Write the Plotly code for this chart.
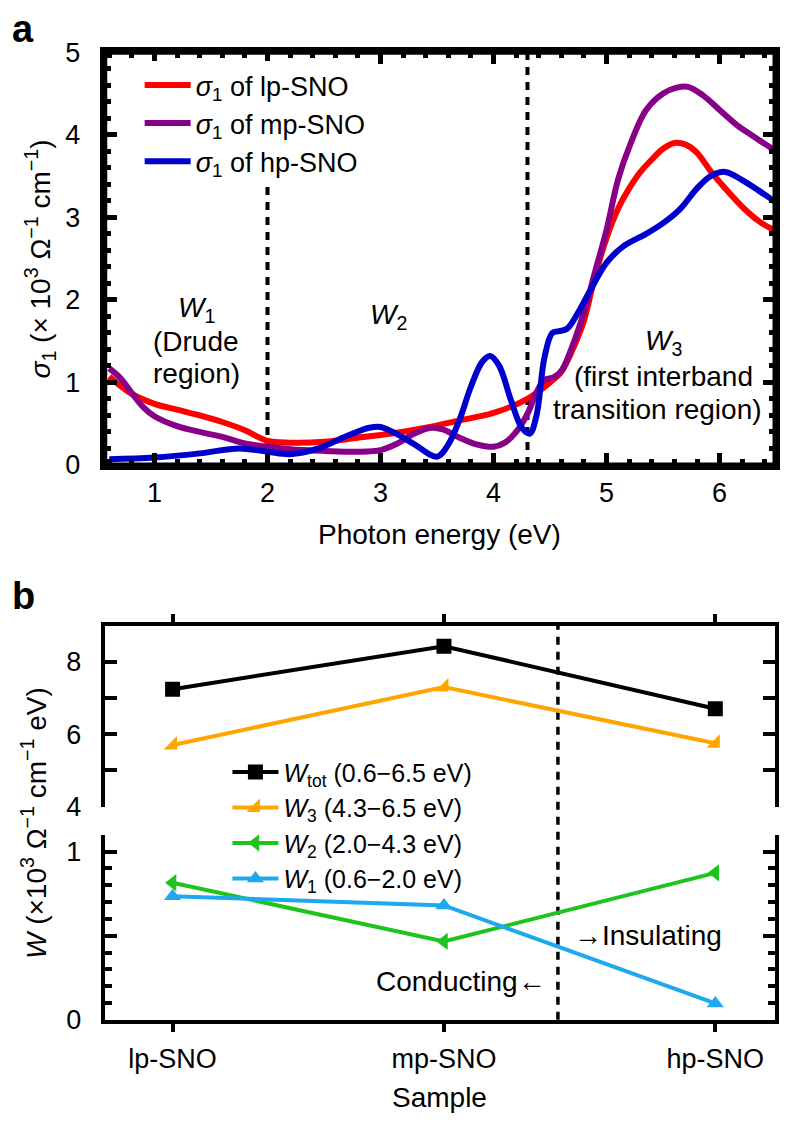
import plotly.graph_objects as go

# ---------------- Panel a data ----------------
lp_energy = [0.6, 0.8, 1.0, 1.2, 1.4, 1.6, 1.8, 2.0, 2.2, 2.5, 2.8, 3.1, 3.4, 3.7, 4.0, 4.3,
             4.5, 4.6, 4.7, 4.8, 4.9, 5.0, 5.1, 5.2, 5.3, 5.4, 5.5, 5.6, 5.7, 5.8, 5.92,
             6.05, 6.22, 6.35, 6.5]
lp_sigma = [1.07, 0.86, 0.74, 0.67, 0.60, 0.52, 0.42, 0.29, 0.27, 0.28, 0.33, 0.38, 0.45, 0.54,
            0.63, 0.80, 1.00, 1.13, 1.40, 1.75, 2.30, 2.75, 3.10, 3.35, 3.55, 3.70, 3.83, 3.90,
            3.88, 3.78, 3.56, 3.35, 3.10, 2.95, 2.83]

mp_energy = [0.6, 0.7, 0.8, 0.9, 1.0, 1.2, 1.4, 1.6, 1.8, 2.0, 2.2, 2.5, 2.8, 3.0, 3.15, 3.3,
             3.45, 3.55, 3.7, 3.85, 4.0, 4.1, 4.2, 4.3, 4.38, 4.45, 4.53, 4.6, 4.7, 4.8, 4.9,
             5.0, 5.1, 5.2, 5.35, 5.5, 5.62, 5.72, 5.85, 6.0, 6.15, 6.3, 6.5]
mp_sigma = [1.17, 1.05, 0.87, 0.70, 0.59, 0.47, 0.40, 0.34, 0.26, 0.22, 0.19, 0.17, 0.16, 0.18,
            0.26, 0.38, 0.45, 0.43, 0.33, 0.25, 0.22, 0.27, 0.40, 0.62, 0.88, 1.03, 1.06, 1.14,
            1.45, 1.85, 2.35, 2.85, 3.45, 3.85, 4.30, 4.50, 4.57, 4.58, 4.48, 4.30, 4.12, 3.98,
            3.80]

hp_energy = [0.6, 1.0, 1.4, 1.75, 2.0, 2.2, 2.45, 2.7, 2.9, 3.0, 3.15, 3.3, 3.5, 3.6, 3.7, 3.8,
             3.9, 3.97, 4.05, 4.15, 4.25, 4.32, 4.38, 4.45, 4.52, 4.58, 4.65, 4.75, 4.85, 5.0,
             5.15, 5.35, 5.5, 5.65, 5.8, 5.92, 6.05, 6.2, 6.35, 6.5]
hp_sigma = [0.07, 0.09, 0.14, 0.20, 0.16, 0.13, 0.20, 0.35, 0.45, 0.46, 0.37, 0.25, 0.10, 0.25,
            0.55, 0.95, 1.25, 1.32, 1.20, 0.80, 0.45, 0.38, 0.60, 1.30, 1.60, 1.62, 1.65, 1.85,
            2.10, 2.45, 2.65, 2.80, 2.93, 3.10, 3.35, 3.50, 3.55, 3.45, 3.32, 3.18]

region_bounds = [2.0, 4.3]

# ---------------- Panel b data ----------------
samples = ["lp-SNO", "mp-SNO", "hp-SNO"]
W_tot = [7.24, 8.43, 6.70]
W_3 = [5.70, 7.30, 5.75]
W_2 = [0.815, 0.466, 0.874]
W_1 = [0.735, 0.68, 0.097]
transition_pos = 1.42

FONT = "Liberation Sans, Arial, Helvetica, sans-serif"
OFF = 8  # default page body margin
W, H = 788 - 2 * OFF, 1144 - 2 * OFF  # figure fits the window without scrollbars


def px_x(p):
    return (p - OFF) / W


def px_y(p):
    return 1 - (p - OFF) / H


fig = go.Figure()

# Panel a traces
for name, xs, ys, col in [
    ("<i>σ</i><sub>1</sub> of lp-SNO", lp_energy, lp_sigma, "#ff0000"),
    ("<i>σ</i><sub>1</sub> of mp-SNO", mp_energy, mp_sigma, "#880088"),
    ("<i>σ</i><sub>1</sub> of hp-SNO", hp_energy, hp_sigma, "#0000cc"),
]:
    fig.add_trace(go.Scatter(x=xs, y=ys, mode="lines", name=name, xaxis="x", yaxis="y",
                             line=dict(color=col, width=6, shape="spline", smoothing=1.0),
                             legend="legend"))

# Panel b traces
series_b = [
    ("<i>W</i><sub>tot</sub> (0.6−6.5 eV)", W_tot, "#000000", "square", "y2", "x2"),
    ("<i>W</i><sub>3</sub> (4.3−6.5 eV)", W_3, "#ffa500", "triangle-se", "y2", "x2"),
    ("<i>W</i><sub>2</sub> (2.0−4.3 eV)", W_2, "#1ec31e", "triangle-left", "y3", "x3"),
    ("<i>W</i><sub>1</sub> (0.6−2.0 eV)", W_1, "#1ea8f0", "triangle-up", "y3", "x3"),
]
for name, vals, col, sym, ya, xa in series_b:
    fig.add_trace(go.Scatter(x=samples, y=vals, mode="lines+markers", name=name,
                             xaxis=xa, yaxis=ya,
                             line=dict(color=col, width=4),
                             marker=dict(symbol=sym, size=15, color=col),
                             legend="legend2"))

# Region boundary lines (panel a)
for xb in region_bounds:
    fig.add_shape(type="line", xref="x", yref="y domain", x0=xb, x1=xb, y0=0, y1=1,
                  line=dict(color="black", width=4, dash="8px,7px"), layer="below")

# Solid frame around panel a
fig.add_shape(type="rect", xref="x domain", yref="y domain", x0=0, x1=1, y0=0, y1=1,
              line=dict(color="black", width=5), fillcolor="rgba(0,0,0,0)", layer="above")

# Conducting/insulating boundary (panel b, spanning both sub-panels)
yb_bot = px_y(1032)
yb_top = px_y(627)
fig.add_shape(type="line", xref="x3", yref="paper", x0=transition_pos, x1=transition_pos,
              y0=yb_bot, y1=yb_top, line=dict(color="black", width=3.5, dash="8px,7px"),
              layer="below")

tick_font = dict(family=FONT, size=27, color="black")
txt_font = dict(family=FONT, size=28, color="black")

fig.update_layout(
    width=W, height=H,
    margin=dict(l=0, r=0, t=0, b=0),
    paper_bgcolor="white", plot_bgcolor="white",
    font=txt_font,
    showlegend=True,
    xaxis=dict(domain=[px_x(105), px_x(777)], range=[0.56, 6.49], anchor="y",
               showline=True, linewidth=5, linecolor="black", mirror="allticks",
               ticks="inside", ticklen=12, tickwidth=5, tickcolor="black",
               tickvals=[1, 2, 3, 4, 5, 6], showgrid=False, zeroline=False,
               ticklabelstandoff=0,
               minor=dict(dtick=0.2, ticks="inside", ticklen=6, tickwidth=5,
                          tickcolor="black", showgrid=False),
               tickfont=tick_font),
    yaxis=dict(domain=[px_y(462), px_y(38)], range=[0, 5], anchor="x",
               showline=True, linewidth=5, linecolor="black", mirror="allticks",
               ticks="inside", ticklen=12, tickwidth=5, tickcolor="black",
               tickvals=[0, 1, 2, 3, 4, 5], showgrid=False, zeroline=False,
               ticklabelstandoff=14,
               minor=dict(dtick=0.2, ticks="inside", ticklen=6, tickwidth=5,
                          tickcolor="black", showgrid=False),
               tickfont=tick_font),
    # panel b upper
    xaxis2=dict(domain=[px_x(105), px_x(777)], range=[-0.25, 2.22], anchor="y2",
                side="top", matches="x3", showline=True, linewidth=4, linecolor="black",
                ticks="outside", ticklen=8, tickwidth=4, tickcolor="black",
                showticklabels=False, showgrid=False, zeroline=False),
    yaxis2=dict(domain=[px_y(813), px_y(627)], range=[4, 9], anchor="x2",
                showline=True, linewidth=4, linecolor="black", mirror="allticks",
                ticks="inside", ticklen=12, tickwidth=4, tickcolor="black",
                tickvals=[4, 5, 6, 7, 8, 9], ticktext=["4", "", "6", "", "8", ""],
                showgrid=False, zeroline=False, ticklabelstandoff=14, tickfont=tick_font),
    # panel b lower
    xaxis3=dict(domain=[px_x(105), px_x(777)], range=[-0.25, 2.22], anchor="y3",
                type="category", showline=True, linewidth=4, linecolor="black",
                ticks="outside", ticklen=8, tickwidth=4, tickcolor="black",
                showgrid=False, zeroline=False, ticklabelstandoff=4, tickfont=tick_font),
    yaxis3=dict(domain=[px_y(1032), px_y(842)], range=[0, 1.1], anchor="x3",
                showline=True, linewidth=4, linecolor="black", mirror="allticks",
                ticks="inside", ticklen=12, tickwidth=4, tickcolor="black",
                tickvals=[0, 0.5, 1], ticktext=["0", "", "1"],
                showgrid=False, zeroline=False, ticklabelstandoff=14, tickfont=tick_font,
                minor=dict(dtick=0.1, ticks="inside", ticklen=7, tickwidth=4,
                           tickcolor="black", showgrid=False)),
    legend=dict(x=px_x(140), y=px_y(47), xanchor="left", yanchor="top",
                bgcolor="white", borderwidth=0, itemwidth=46, tracegroupgap=0,
                font=dict(family=FONT, size=27, color="black")),
    legend2=dict(x=px_x(228), y=px_y(754), xanchor="left", yanchor="top",
                 bgcolor="rgba(0,0,0,0)", borderwidth=0, itemwidth=46, tracegroupgap=0,
                 font=dict(family=FONT, size=25, color="black")),
)


def pann(text, xp, yp, xanchor="center", size=28, angle=0):
    return dict(text=text, x=px_x(xp), y=px_y(yp), xref="paper", yref="paper",
                xanchor=xanchor, yanchor="middle", showarrow=False, textangle=angle,
                font=dict(family=FONT, size=size, color="black"))


ann = [
    pann("<b>a</b>", 10, 14, xanchor="left", size=38),
    pann("<b>b</b>", 10, 597, xanchor="left", size=38),
    pann("<i>σ</i><sub>1</sub> (× 10<sup>3</sup> Ω<sup>−1</sup> cm<sup>−1</sup>)", 40, 250,
         angle=-90),
    pann("Photon energy (eV)", 441, 533),
    pann("<i>W</i> (×10<sup>3</sup> Ω<sup>−1</sup> cm<sup>−1</sup> eV)", 34, 830, angle=-90),
    pann("Sample", 441, 1112),
    pann("→Insulating", 573, 945, xanchor="left"),
    pann("Conducting←", 549, 993, xanchor="right"),
]
# region labels (data coordinates)
for txt, xx, yy in [
    ("<i>W</i><sub>1</sub>", 1.37, 1.88),
    ("(Drude", 1.37, 1.50),
    ("region)", 1.37, 1.11),
    ("<i>W</i><sub>2</sub>", 3.07, 1.80),
    ("<i>W</i><sub>3</sub>", 5.50, 1.48),
    ("(first interband", 5.50, 1.07),
    ("transition region)", 5.45, 0.67),
]:
    ann.append(dict(text=txt, x=xx, y=yy, xref="x", yref="y", showarrow=False,
                    xanchor="center", yanchor="middle", font=txt_font))
fig.update_layout(annotations=ann)

fig.write_html("out.html")
